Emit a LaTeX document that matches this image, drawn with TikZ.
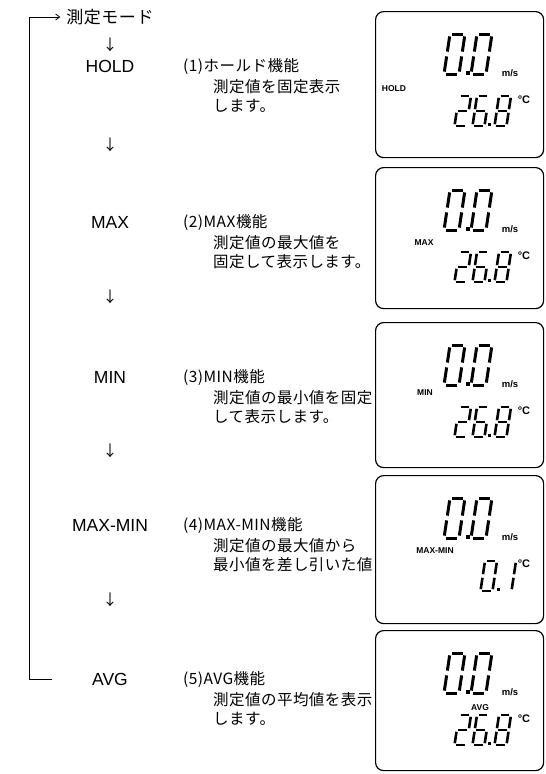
\documentclass[tikz,border=0pt]{standalone}
\usepackage{fontspec}
\setmainfont{Liberation Sans}
\newfontfamily\jpfont[LetterSpace=3]{Noto Sans CJK JP}
\newfontfamily\arrowfont{Noto Sans CJK JP}
\usetikzlibrary{arrows.meta}

% seven segments of one LCD digit (width 1, height 2)
\def\lcdsega{(0.14,0) -- (0.86,0)}
\def\lcdsegb{(1,0.12) -- (1,0.88)}
\def\lcdsegc{(1,1.12) -- (1,1.88)}
\def\lcdsegd{(0.14,2) -- (0.86,2)}
\def\lcdsege{(0,1.12) -- (0,1.88)}
\def\lcdsegf{(0,0.12) -- (0,0.88)}
\def\lcdsegg{(0.14,1) -- (0.86,1)}

% [style] x, y, width, half height, segments
\newcommand{\lcddigit}[6][lcdseg]{%
  \begin{scope}[shift={(#2,#3)}, xslant=0.15, x=#4pt, y=-#5pt]
    \foreach \s in {#6} {\draw[#1] \csname lcdseg\s\endcsname;}
  \end{scope}}

\begin{document}
\begin{tikzpicture}[x=1pt, y=-1pt,
    txt/.style={inner sep=0pt, font=\fontsize{17.5}{20}\selectfont},
    dntxt/.style={inner sep=0pt, font=\arrowfont\fontsize{15}{18}\selectfont},
    jptxt/.style={inner sep=0pt, anchor=west, font=\jpfont\fontsize{15.5}{18.5}\selectfont},
    subtxt/.style={jptxt, align=left},
    lcdbox/.style={draw, line width=1.2pt, rounded corners=8pt, inner sep=0pt,
      anchor=north west, minimum width=168pt},
    lcdseg/.style={line width=3pt},
    lcdsmall/.style={line width=2.6pt},
    lcdlab/.style={inner sep=0pt, font=\bfseries\fontsize{8.5}{8.5}\selectfont},
    backline/.style={line width=0.8pt, -{Straight Barb[length=4pt,width=6pt]}}]
    \useasboundingbox (0,0) rectangle (546,774);

    % Nodes
    \node (mode) [txt, font=\jpfont\fontsize{17}{20}\selectfont] at (110,17) {測定モード};
    \node (dn0) [dntxt] at (110,45) {↓};
    \node (hold) [txt] at (110,66) {HOLD};
    \node (dn1) [dntxt] at (110,145) {↓};
    \node (max) [txt] at (110,222) {MAX};
    \node (dn2) [dntxt] at (110,297) {↓};
    \node (min) [txt] at (110,377) {MIN};
    \node (dn3) [dntxt] at (110,451) {↓};
    \node (maxmin) [txt] at (110,525) {MAX-MIN};
    \node (dn4) [dntxt] at (110,600) {↓};
    \node (avg) [txt] at (110,679) {AVG};

    \node (f1) [jptxt] at (183,66) {(1)ホールド機能};
    \node (d1) [subtxt] at (213,96) {測定値を固定表示\\します。};
    \node (f2) [jptxt] at (183,222) {(2)MAX機能};
    \node (d2) [subtxt] at (213,252) {測定値の最大値を\\固定して表示します。};
    \node (f3) [jptxt] at (183,377) {(3)MIN機能};
    \node (d3) [subtxt] at (213,407) {測定値の最小値を固定\\して表示します。};
    \node (f4) [jptxt] at (183,525) {(4)MAX-MIN機能};
    \node (d4) [subtxt] at (213,555) {測定値の最大値から\\最小値を差し引いた値};
    \node (f5) [jptxt] at (183,679) {(5)AVG機能};
    \node (d5) [subtxt] at (213,709) {測定値の平均値を表示\\します。};

    % Edges
    \draw[backline] ([xshift=-40pt]avg.west) -| ([xshift=-37pt]mode.west) -- ([xshift=-6pt]mode.west);

    % LCD panels
    \foreach \t/\b/\lab/\lx/\ly [count=\i] in {11/157/HOLD/394/78, 167/308/MAX/424/76,
        322/467/MIN/425/71, 475/623/MAX-MIN/435/76, 630/770/AVG/480/78} {
      \node (lcd\i) [lcdbox, minimum height=\b-\t] at (375,\t) {};
      \lcddigit{450}{\t+23}{15}{20}{a,b,c,d,e,f}
      \lcddigit{477}{\t+23}{15}{20}{a,b,c,d,e,f}
      \fill (466,\t+60) rectangle +(3.5,3.5);
      \node (ms\i) [lcdlab, font=\bfseries\fontsize{9.5}{9.5}\selectfont] at (510,\t+62) {m/s};
      \node (deg\i) [lcdlab, font=\bfseries\fontsize{11}{11}\selectfont] at (524,\t+89) {°C};
      \node (lab\i) [lcdlab] at (\lx,\t+\ly) {\lab};
      \ifnum\i=4
        \lcddigit[lcdsmall]{485}{\t+86}{12}{15}{a,b,c,d,e,f}
        \fill (497,\t+113) rectangle +(3,3);
        \lcddigit[lcdsmall]{504}{\t+86}{12}{15}{b,c}
      \else
        \lcddigit[lcdsmall]{459}{\t+85}{12}{15}{a,b,g,e,d}
        \lcddigit[lcdsmall]{477}{\t+85}{12}{15}{a,f,g,e,d,c}
        \fill (488,\t+112) rectangle +(3,3);
        \lcddigit[lcdsmall]{499}{\t+85}{12}{15}{a,b,c,d,e,f,g}
      \fi
    }

\end{tikzpicture}
\end{document}
